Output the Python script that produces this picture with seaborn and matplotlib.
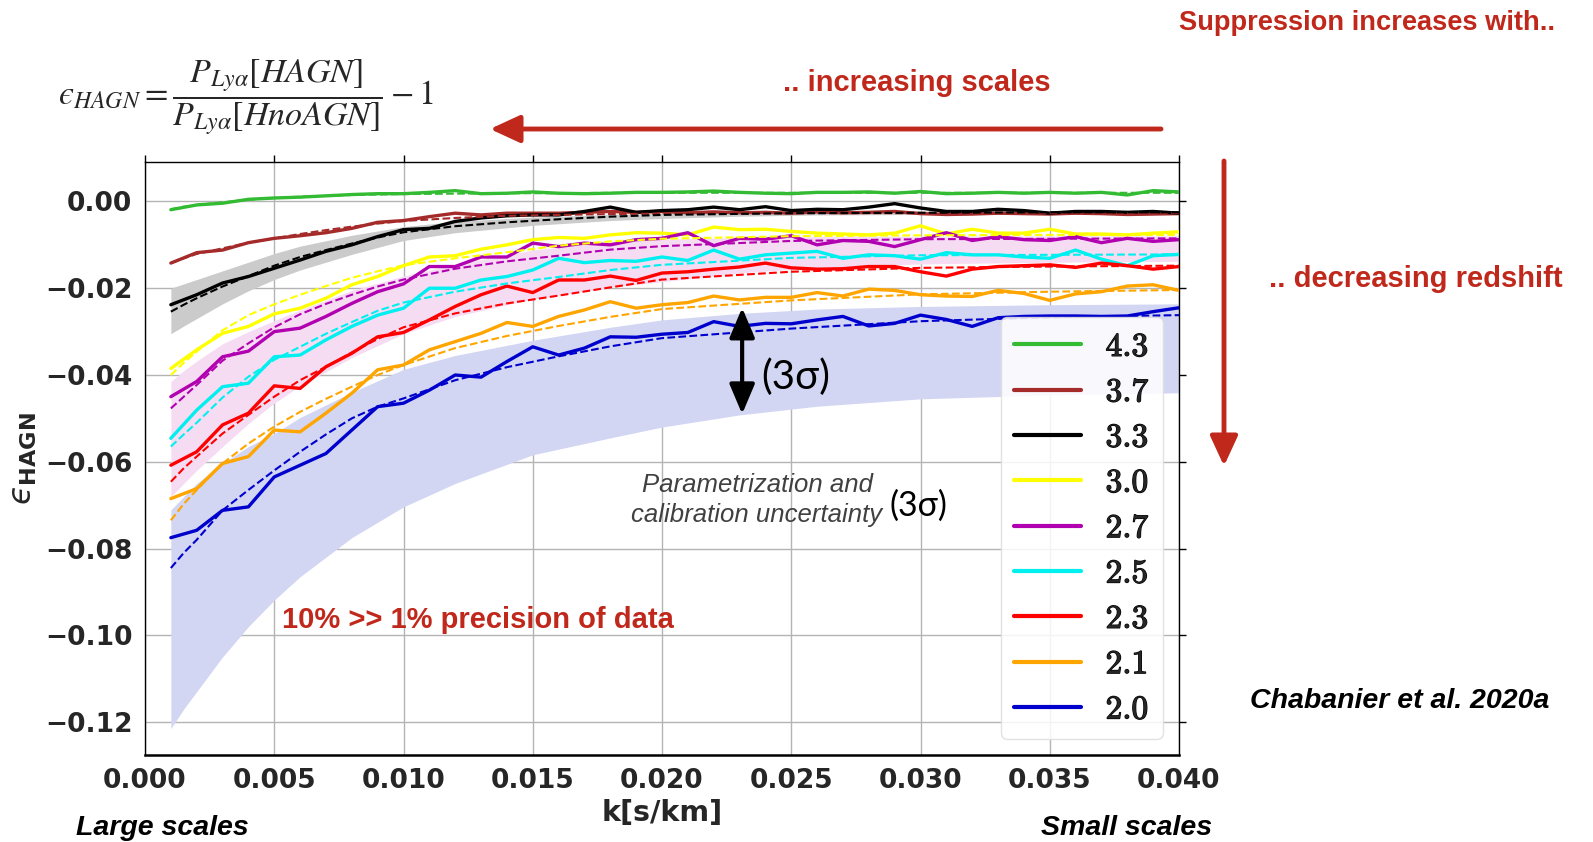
import matplotlib
matplotlib.use("Agg")
import matplotlib.pyplot as plt
import matplotlib.patheffects as pe
import numpy as np
import pandas as pd
import seaborn as sns
from matplotlib.lines import Line2D
from matplotlib.font_manager import FontProperties

# ---------------------------------------------------------------- data
redshifts = ["4.3", "3.7", "3.3", "3.0", "2.7", "2.5", "2.3", "2.1", "2.0"]
line_colors = ["#33bb33", "#a52a2a", "black", "#ffff00", "#b000b0",
               "#00f0f0", "red", "orange", "mediumblue"]

k_data = [0.001, 0.002, 0.003, 0.004, 0.005, 0.006, 0.007, 0.008, 0.009, 0.010,
          0.011, 0.012, 0.013, 0.014, 0.015, 0.016, 0.017, 0.018, 0.019, 0.020,
          0.021, 0.022, 0.023, 0.024, 0.025, 0.026, 0.027, 0.028, 0.029, 0.030,
          0.031, 0.032, 0.033, 0.034, 0.035, 0.036, 0.037, 0.038, 0.039, 0.040]

eps_43 = [-0.0019, -0.0008, -0.0004, 0.0005, 0.0008, 0.0010, 0.0013, 0.0016, 0.0018, 0.0018,
          0.0021, 0.0025, 0.0018, 0.0019, 0.0022, 0.0019, 0.0018, 0.0019, 0.0021, 0.0021,
          0.0022, 0.0024, 0.0021, 0.0019, 0.0018, 0.0021, 0.0021, 0.0022, 0.0019, 0.0023,
          0.0018, 0.0019, 0.0021, 0.0019, 0.0021, 0.0019, 0.0021, 0.0015, 0.0025, 0.0022]
eps_37 = [-0.0142, -0.0118, -0.0112, -0.0095, -0.0085, -0.0079, -0.0072, -0.0062, -0.0048, -0.0044,
          -0.0035, -0.0027, -0.0031, -0.0027, -0.0027, -0.0027, -0.0025, -0.0023, -0.0025, -0.0023,
          -0.0026, -0.0024, -0.0026, -0.0025, -0.0027, -0.0024, -0.0026, -0.0025, -0.0023, -0.0028,
          -0.0030, -0.0029, -0.0027, -0.0028, -0.0029, -0.0027, -0.0028, -0.0030, -0.0029, -0.0028]
eps_33 = [-0.0238, -0.0215, -0.0188, -0.0173, -0.0154, -0.0135, -0.0115, -0.0100, -0.0081, -0.0065,
          -0.0062, -0.0046, -0.0038, -0.0033, -0.0031, -0.0031, -0.0023, -0.0013, -0.0025, -0.0021,
          -0.0019, -0.0013, -0.0019, -0.0012, -0.0021, -0.0018, -0.0019, -0.0013, -0.0005, -0.0015,
          -0.0023, -0.0023, -0.0018, -0.0021, -0.0027, -0.0023, -0.0023, -0.0025, -0.0023, -0.0027]
eps_30 = [-0.0385, -0.0342, -0.0304, -0.0288, -0.0259, -0.0246, -0.0223, -0.0192, -0.0173, -0.0148,
          -0.0128, -0.0125, -0.0110, -0.0100, -0.0088, -0.0083, -0.0085, -0.0077, -0.0072, -0.0073,
          -0.0077, -0.0059, -0.0065, -0.0064, -0.0069, -0.0073, -0.0075, -0.0077, -0.0073, -0.0056,
          -0.0075, -0.0064, -0.0073, -0.0073, -0.0064, -0.0075, -0.0075, -0.0077, -0.0073, -0.0070]
eps_27 = [-0.0450, -0.0415, -0.0358, -0.0345, -0.0300, -0.0292, -0.0265, -0.0235, -0.0208, -0.0190,
          -0.0150, -0.0150, -0.0128, -0.0128, -0.0096, -0.0104, -0.0096, -0.0100, -0.0088, -0.0085,
          -0.0072, -0.0102, -0.0085, -0.0087, -0.0079, -0.0100, -0.0090, -0.0092, -0.0104, -0.0088,
          -0.0072, -0.0090, -0.0081, -0.0088, -0.0090, -0.0081, -0.0095, -0.0085, -0.0092, -0.0088]
eps_25 = [-0.0546, -0.0481, -0.0427, -0.0419, -0.0358, -0.0354, -0.0319, -0.0288, -0.0262, -0.0246,
          -0.0200, -0.0200, -0.0181, -0.0173, -0.0158, -0.0131, -0.0141, -0.0136, -0.0138, -0.0128,
          -0.0136, -0.0112, -0.0133, -0.0123, -0.0119, -0.0115, -0.0131, -0.0123, -0.0125, -0.0133,
          -0.0118, -0.0123, -0.0123, -0.0128, -0.0131, -0.0112, -0.0133, -0.0148, -0.0125, -0.0122]
eps_23 = [-0.0608, -0.0577, -0.0515, -0.0488, -0.0425, -0.0431, -0.0381, -0.0350, -0.0312, -0.0302,
          -0.0273, -0.0242, -0.0215, -0.0195, -0.0210, -0.0181, -0.0181, -0.0172, -0.0182, -0.0165,
          -0.0162, -0.0156, -0.0151, -0.0142, -0.0153, -0.0156, -0.0155, -0.0150, -0.0150, -0.0162,
          -0.0172, -0.0156, -0.0150, -0.0148, -0.0146, -0.0152, -0.0142, -0.0148, -0.0156, -0.0150]
eps_21 = [-0.0685, -0.0662, -0.0604, -0.0588, -0.0527, -0.0531, -0.0488, -0.0442, -0.0388, -0.0377,
          -0.0342, -0.0323, -0.0304, -0.0279, -0.0288, -0.0265, -0.0250, -0.0231, -0.0246, -0.0238,
          -0.0233, -0.0218, -0.0227, -0.0221, -0.0221, -0.0210, -0.0218, -0.0202, -0.0205, -0.0215,
          -0.0218, -0.0219, -0.0205, -0.0212, -0.0228, -0.0213, -0.0208, -0.0195, -0.0192, -0.0205]
eps_20 = [-0.0775, -0.0758, -0.0712, -0.0704, -0.0635, -0.0608, -0.0581, -0.0527, -0.0473, -0.0465,
          -0.0435, -0.0400, -0.0405, -0.0369, -0.0335, -0.0354, -0.0338, -0.0312, -0.0313, -0.0306,
          -0.0302, -0.0277, -0.0288, -0.0281, -0.0282, -0.0273, -0.0265, -0.0287, -0.0281, -0.0262,
          -0.0272, -0.0288, -0.0268, -0.0265, -0.0264, -0.0264, -0.0265, -0.0264, -0.0254, -0.0245]

# parametric fits (dashed)
k_fit = [0.001, 0.0015, 0.002, 0.003, 0.004, 0.005, 0.006, 0.007, 0.008, 0.009,
         0.010, 0.012, 0.014, 0.016, 0.018, 0.020, 0.025, 0.030, 0.035, 0.040]
fit_43 = [-0.0018, -0.0012, -0.0008, -0.0002, 0.0004, 0.0008, 0.0011, 0.0013, 0.0015, 0.0016,
          0.0017, 0.0018, 0.0019, 0.0019, 0.0020, 0.0020, 0.0020, 0.0020, 0.0020, 0.0020]
fit_37 = [-0.0142, -0.0131, -0.0121, -0.0108, -0.0095, -0.0085, -0.0075, -0.0066, -0.0058, -0.0051,
          -0.0045, -0.0038, -0.0033, -0.0031, -0.0029, -0.0028, -0.0027, -0.0027, -0.0027, -0.0027]
fit_33 = [-0.0254, -0.0238, -0.0223, -0.0196, -0.0172, -0.0148, -0.0128, -0.0112, -0.0097, -0.0083,
          -0.0071, -0.0057, -0.0048, -0.0041, -0.0035, -0.0031, -0.0027, -0.0026, -0.0025, -0.0025]
fit_30 = [-0.0400, -0.0372, -0.0346, -0.0297, -0.0262, -0.0237, -0.0215, -0.0195, -0.0176, -0.0161,
          -0.0147, -0.0131, -0.0117, -0.0102, -0.0092, -0.0086, -0.0080, -0.0078, -0.0077, -0.0077]
fit_27 = [-0.0477, -0.0450, -0.0423, -0.0367, -0.0327, -0.0290, -0.0260, -0.0236, -0.0215, -0.0196,
          -0.0180, -0.0155, -0.0138, -0.0125, -0.0111, -0.0103, -0.0091, -0.0087, -0.0086, -0.0085]
fit_25 = [-0.0565, -0.0537, -0.0510, -0.0452, -0.0404, -0.0365, -0.0335, -0.0305, -0.0278, -0.0252,
          -0.0233, -0.0208, -0.0189, -0.0174, -0.0158, -0.0146, -0.0130, -0.0124, -0.0123, -0.0122]
fit_23 = [-0.0646, -0.0615, -0.0588, -0.0535, -0.0492, -0.0450, -0.0412, -0.0381, -0.0348, -0.0317,
          -0.0290, -0.0258, -0.0235, -0.0217, -0.0198, -0.0180, -0.0162, -0.0153, -0.0150, -0.0148]
fit_21 = [-0.0735, -0.0697, -0.0665, -0.0604, -0.0558, -0.0519, -0.0485, -0.0455, -0.0427, -0.0400,
          -0.0377, -0.0338, -0.0310, -0.0287, -0.0266, -0.0248, -0.0228, -0.0214, -0.0208, -0.0204]
fit_20 = [-0.0845, -0.0810, -0.0780, -0.0712, -0.0665, -0.0620, -0.0577, -0.0537, -0.0500, -0.0473,
          -0.0454, -0.0412, -0.0382, -0.0357, -0.0334, -0.0315, -0.0293, -0.0276, -0.0267, -0.0262]

# 3-sigma uncertainty envelopes
k_band = [0.001, 0.0015, 0.002, 0.003, 0.004, 0.005, 0.006, 0.008, 0.010,
          0.012, 0.015, 0.018, 0.020, 0.023, 0.026, 0.030, 0.035, 0.040]
band33_hi = [-0.0200, -0.0190, -0.0180, -0.0160, -0.0140, -0.0120, -0.0103, -0.0078, -0.0058,
             -0.0046, -0.0036, -0.0030, -0.0027, -0.0024, -0.0023, -0.0022, -0.0021, -0.0021]
band33_lo = [-0.0305, -0.0287, -0.0270, -0.0236, -0.0206, -0.0180, -0.0158, -0.0122, -0.0090,
             -0.0072, -0.0055, -0.0044, -0.0039, -0.0034, -0.0031, -0.0030, -0.0029, -0.0029]
band27_hi = [-0.0415, -0.0390, -0.0368, -0.0328, -0.0300, -0.0275, -0.0250, -0.0205, -0.0172,
             -0.0145, -0.0112, -0.0093, -0.0087, -0.0083, -0.0081, -0.0080, -0.0079, -0.0079]
band27_lo = [-0.0680, -0.0650, -0.0620, -0.0565, -0.0512, -0.0465, -0.0425, -0.0360, -0.0305,
             -0.0265, -0.0225, -0.0198, -0.0185, -0.0165, -0.0152, -0.0144, -0.0140, -0.0138]
band20_hi = [-0.0711, -0.0680, -0.0650, -0.0604, -0.0565, -0.0535, -0.0498, -0.0440, -0.0387,
             -0.0355, -0.0320, -0.0290, -0.0273, -0.0258, -0.0248, -0.0242, -0.0238, -0.0236]
band20_lo = [-0.1215, -0.1170, -0.1130, -0.1050, -0.0980, -0.0919, -0.0865, -0.0775, -0.0704,
             -0.0650, -0.0584, -0.0545, -0.0520, -0.0492, -0.0472, -0.0455, -0.0446, -0.0441]

x_ticks = [0.000, 0.005, 0.010, 0.015, 0.020, 0.025, 0.030, 0.035, 0.040]
y_ticks = [0.00, -0.02, -0.04, -0.06, -0.08, -0.10, -0.12]

# ---------------------------------------------------------------- frames
measured = [eps_43, eps_37, eps_33, eps_30, eps_27, eps_25, eps_23, eps_21, eps_20]
fitted = [fit_43, fit_37, fit_33, fit_30, fit_27, fit_25, fit_23, fit_21, fit_20]
df_meas = pd.concat([pd.DataFrame({"k": k_data, "eps": v, "z": z})
                     for z, v in zip(redshifts, measured)], ignore_index=True)
df_fit = pd.concat([pd.DataFrame({"k": k_fit, "eps": v, "z": z})
                    for z, v in zip(redshifts, fitted)], ignore_index=True)
palette = dict(zip(redshifts, line_colors))

# ---------------------------------------------------------------- style
sns.set_theme(style="whitegrid")
plt.rcParams["font.family"] = ["DejaVu Sans"]
plt.rcParams["axes.unicode_minus"] = True

W, H = 1593, 842
fig = plt.figure(figsize=(W / 100, H / 100), dpi=100)
ax = fig.add_axes([145 / W, 1 - 755 / H, (1179 - 145) / W, (755 - 162) / H])
ax.set_facecolor("white")

RED = "#c0281c"

# envelopes
ax.fill_between(k_band, band20_lo, band20_hi, color="#d2d6f3", lw=0, zorder=1)
ax.fill_between(k_band, band27_lo, band27_hi, color="#f6dcf2", lw=0, zorder=1)
ax.fill_between(k_band, band33_lo, band33_hi, color="#cbcbcb", lw=0, zorder=1)

# measured suppression
sns.lineplot(data=df_meas, x="k", y="eps", hue="z", hue_order=redshifts,
             palette=palette, estimator=None, sort=False, lw=2.4,
             legend=False, ax=ax, zorder=3)
# fits
sns.lineplot(data=df_fit, x="k", y="eps", hue="z", hue_order=redshifts,
             palette=palette, estimator=None, sort=False, lw=1.5,
             linestyle="--", legend=False, ax=ax, zorder=4)

ax.set_xlim(0.0, 0.040)
ax.set_ylim(-0.1276, 0.0091)
ax.set_xticks(x_ticks)
ax.set_yticks(y_ticks)
ax.set_xticklabels([f"{t:.3f}" for t in x_ticks])
ax.set_yticklabels(["0.00" if t == 0 else f"\u2212{abs(t):.2f}" for t in y_ticks])
ax.tick_params(axis="both", which="both", direction="out", length=5, width=1,
               color="black", labelsize=19, top=True, right=True,
               labeltop=False, labelright=False, pad=4)
for lab in ax.get_xticklabels() + ax.get_yticklabels():
    lab.set_fontweight("bold")
ax.grid(True, color="#b4b4b4", lw=1.0)
for side, sp in ax.spines.items():
    sp.set_color("black")
    sp.set_linewidth(1.0)
ax.spines["bottom"].set_linewidth(1.8)

ax.set_xlabel("k[s/km]", fontsize=20.5, fontweight="bold", labelpad=4)
ax.set_ylabel("$\u03f5_{\\mathbf{HAGN}}$", fontsize=23, labelpad=4,
              math_fontfamily="dejavusans")

# legend
handles = [Line2D([0], [0], color=c, lw=3) for c in line_colors]
labels = [r"$\mathbf{%s}$" % z for z in redshifts]
leg = ax.legend(handles, labels, loc="lower right",
                bbox_to_anchor=(0.9845, 0.027), borderaxespad=0,
                prop=FontProperties(size=24, math_fontfamily="cm"),
                handlelength=2.0, handletextpad=0.75, labelspacing=0.37,
                borderpad=0.4, frameon=True, fancybox=True,
                framealpha=0.85, edgecolor="#dddddd")
leg.set_zorder(6)
for txt in leg.get_texts():
    txt.set_path_effects([pe.withStroke(linewidth=0.9, foreground="black")])

# annotations inside the axes
ax.annotate("", xy=(0.0231, -0.0245), xytext=(0.0231, -0.0490),
            arrowprops=dict(arrowstyle="<|-|>,head_length=1.3,head_width=0.55",
                            color="black", lw=3, mutation_scale=14,
                            shrinkA=0, shrinkB=0), zorder=7)


def fpos(x, y):
    return x / W, 1 - y / H


fig.text(*fpos(796, 377), "(3\u03c3)", fontsize=29, family="Lato",
         ha="center", va="center", color="black")
fig.text(*fpos(757, 485), "Parametrization and", fontsize=18.5,
         family="Liberation Sans", style="italic", color="#404040",
         ha="center", va="center")
fig.text(*fpos(757, 515), "calibration uncertainty", fontsize=18.5,
         family="Liberation Sans", style="italic", color="#404040",
         ha="center", va="center")
fig.text(*fpos(918, 506), "(3\u03c3)", fontsize=24.5, family="Lato",
         ha="center", va="center", color="black")
fig.text(*fpos(478, 620), "10% >> 1% precision of data", fontsize=21,
         family="Liberation Sans", fontweight="bold", color=RED,
         ha="center", va="center")

# formula
fig.text(*fpos(246, 97),
         "$\u03f5_{HAGN} = \\dfrac{P_{Ly\\alpha}[HAGN]}{P_{Ly\\alpha}[HnoAGN]} - 1$",
         fontsize=24.5, math_fontfamily="stix", ha="center", va="center")

# headline annotations
fig.text(*fpos(1555, 23), "Suppression increases with..", fontsize=19.6,
         family="Liberation Sans", fontweight="bold", color=RED,
         ha="right", va="center")
fig.text(*fpos(917, 83), ".. increasing scales", fontsize=21,
         family="Liberation Sans", fontweight="bold", color=RED,
         ha="center", va="center")
fig.text(*fpos(1416, 279), ".. decreasing redshift", fontsize=21,
         family="Liberation Sans", fontweight="bold", color=RED,
         ha="center", va="center")
fig.text(*fpos(1400, 701), "Chabanier et al. 2020a", fontsize=20.5,
         family="Liberation Sans", fontweight="bold", style="italic",
         color="black", ha="center", va="center")
fig.text(*fpos(76, 828), "Large scales", fontsize=20.5,
         family="Liberation Sans", fontweight="bold", style="italic",
         color="black", ha="left", va="center")
fig.text(*fpos(1212, 828), "Small scales", fontsize=20.5,
         family="Liberation Sans", fontweight="bold", style="italic",
         color="black", ha="right", va="center")

# red direction arrows
arrow_kw = dict(arrowstyle="-|>,head_length=1.3,head_width=0.6",
                color=RED, lw=3.5, mutation_scale=14, shrinkA=0, shrinkB=0)
fig.add_artist(matplotlib.patches.FancyArrowPatch(
    fpos(1161, 129), fpos(490, 129), transform=fig.transFigure, **arrow_kw))
fig.add_artist(matplotlib.patches.FancyArrowPatch(
    fpos(1224, 161), fpos(1224, 466), transform=fig.transFigure, **arrow_kw))

fig.savefig("out.png", dpi=100, facecolor="white")
